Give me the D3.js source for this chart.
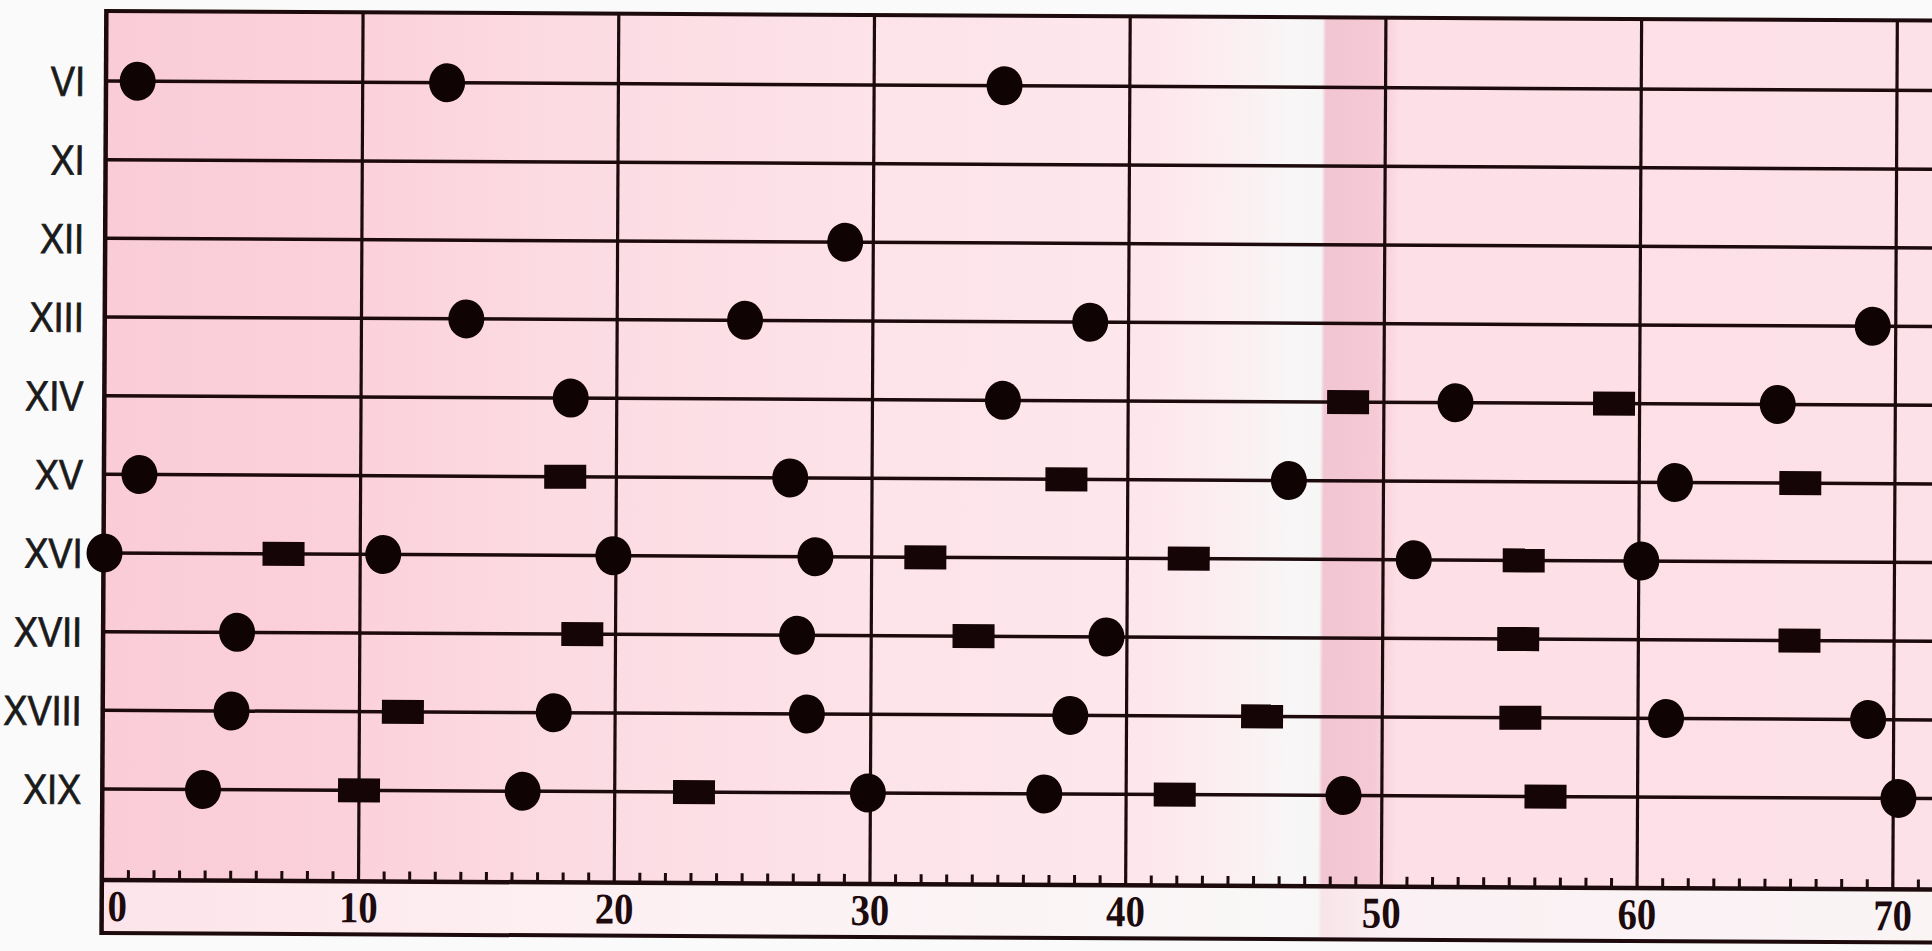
<!DOCTYPE html>
<html>
<head>
<meta charset="utf-8">
<script src="https://cdn.jsdelivr.net/npm/d3@7"></script>
<style>
  html, body { margin: 0; padding: 0; background: #fbfafa; overflow: hidden; }
  svg { display: block; }
</style>
</head>
<body>
<svg id="chart" width="1932" height="951"></svg>
<script>
// ---- data ----
const rows = ["VI", "XI", "XII", "XIII", "XIV", "XV", "XVI", "XVII", "XVIII", "XIX"];
const majorTicks = [0, 10, 20, 30, 40, 50, 60, 70];
const minorTicks = d3.range(1, 72).filter(v => v % 10 !== 0);

// circles: [row, value]
const circlePoints = [
  ["VI", 1.2], ["VI", 13.3], ["VI", 35.1],
  ["XII", 28.9],
  ["XIII", 14.1], ["XIII", 25.0], ["XIII", 38.5], ["XIII", 69.1],
  ["XIV", 18.2], ["XIV", 35.1], ["XIV", 52.8], ["XIV", 65.4],
  ["XV", 1.35], ["XV", 26.8], ["XV", 46.3], ["XV", 61.4],
  ["XVI", 0], ["XVI", 10.9], ["XVI", 19.9], ["XVI", 27.8], ["XVI", 51.2], ["XVI", 60.1],
  ["XVII", 5.2], ["XVII", 27.1], ["XVII", 39.2],
  ["XVIII", 5.0], ["XVIII", 17.6], ["XVIII", 27.5], ["XVIII", 37.8], ["XVIII", 61.1], ["XVIII", 69.0],
  ["XIX", 3.9], ["XIX", 16.4], ["XIX", 29.9], ["XIX", 36.8], ["XIX", 48.5], ["XIX", 70.2]
];
// rectangles: [row, value]
const rectPoints = [
  ["XIV", 48.6], ["XIV", 59.0],
  ["XV", 18.0], ["XV", 37.6], ["XV", 66.3],
  ["XVI", 7.0], ["XVI", 32.1], ["XVI", 42.4], ["XVI", 55.5],
  ["XVII", 18.7], ["XVII", 34.0], ["XVII", 55.3], ["XVII", 66.3],
  ["XVIII", 11.7], ["XVIII", 45.3], ["XVIII", 55.4],
  ["XIX", 10.0], ["XIX", 23.1], ["XIX", 41.9], ["XIX", 56.4]
];

(function () {
// ---- layout ----
const W = 1932;
const frameL = 106, frameT = 11, axisY = 880, frameB = 933;
const ink = "#1c0a0d";

const svg = d3.select("#chart");
const x = d3.scaleLinear().domain([0, 70]).range([107, 1897]);
const y = d3.scalePoint().domain(rows).range([81, 789]);

// gradient background
const defs = svg.append("defs");
function grad(id, stops) {
  const gr = defs.append("linearGradient").attr("id", id)
    .attr("gradientUnits", "userSpaceOnUse")
    .attr("x1", frameL).attr("x2", W).attr("y1", 0).attr("y2", 0);
  stops.forEach(([px, c]) => gr.append("stop")
    .attr("offset", (px - frameL) / (W - frameL)).attr("stop-color", c));
}
grad("bg", [
  [106, "#f9ccd8"], [360, "#fbd1dc"], [560, "#fcdbe3"], [900, "#fde3ea"],
  [1150, "#fde7ed"], [1240, "#fbeff2"], [1290, "#f8f6f6"], [1322, "#f7f6f6"],
  [1326, "#f1c5d2"], [1378, "#f5cad6"], [1400, "#fddfe7"], [1932, "#fde1e8"]
]);
grad("bg2", [
  [106, "#fce4ea"], [600, "#fdf0f3"], [1300, "#f9f7f7"], [1322, "#f8f7f7"],
  [1326, "#f7e4e9"], [1400, "#fbf1f4"], [1932, "#faf4f5"]
]);

const g = svg.append("g").attr("transform", `rotate(0.3, ${frameL}, 81)`);

g.append("rect").attr("x", frameL).attr("y", frameT).attr("width", W - frameL + 20)
  .attr("height", axisY - frameT).attr("fill", "url(#bg)");
g.append("rect").attr("x", frameL).attr("y", axisY).attr("width", W - frameL + 20)
  .attr("height", frameB - axisY).attr("fill", "url(#bg2)");

// vertical grid lines (major)
g.append("g").selectAll("line").data(majorTicks.filter(v => v > 0)).join("line")
  .attr("x1", d => x(d)).attr("x2", d => x(d))
  .attr("y1", frameT).attr("y2", axisY)
  .attr("stroke", ink).attr("stroke-width", 3.2);

// horizontal row lines
g.append("g").selectAll("line").data(rows).join("line")
  .attr("x1", frameL).attr("x2", W + 20)
  .attr("y1", d => y(d)).attr("y2", d => y(d))
  .attr("stroke", ink).attr("stroke-width", 3.5);

// minor ticks
g.append("g").selectAll("line").data(minorTicks).join("line")
  .attr("x1", d => x(d)).attr("x2", d => x(d))
  .attr("y1", axisY).attr("y2", axisY - 10)
  .attr("stroke", ink).attr("stroke-width", 3);

// frame: top border, axis line, bottom border, left border
g.append("line").attr("x1", frameL).attr("x2", W + 20).attr("y1", frameT).attr("y2", frameT)
  .attr("stroke", ink).attr("stroke-width", 4);
g.append("line").attr("x1", frameL).attr("x2", W + 20).attr("y1", axisY).attr("y2", axisY)
  .attr("stroke", ink).attr("stroke-width", 4.5);
g.append("line").attr("x1", frameL).attr("x2", W + 20).attr("y1", frameB).attr("y2", frameB)
  .attr("stroke", ink).attr("stroke-width", 4);
g.append("line").attr("x1", frameL).attr("x2", frameL).attr("y1", frameT - 2).attr("y2", frameB + 2)
  .attr("stroke", ink).attr("stroke-width", 4.5);

// row labels
g.append("g").selectAll("text").data(rows).join("text")
  .attr("transform", d => `translate(85, ${y(d) + 15}) scale(0.86, 1)`)
  .attr("text-anchor", "end")
  .attr("font-family", "Liberation Sans, Arial, sans-serif")
  .attr("font-size", 42)
  .attr("fill", "#1a1a1a")
  .attr("stroke", "#1a1a1a").attr("stroke-width", 0.8)
  .text(d => d);

// tick labels
g.append("g").selectAll("text").data(majorTicks).join("text")
  .attr("transform", d => `translate(${d === 0 ? x(d) + 5 : x(d)}, 921) scale(0.88, 1)`)
  .attr("text-anchor", d => d === 0 ? "start" : "middle")
  .attr("font-family", "Liberation Serif, Times New Roman, serif")
  .attr("font-weight", "bold")
  .attr("font-size", 44)
  .attr("fill", ink)
  .text(d => d);

// rectangles
const rw = 42, rh = 24;
g.append("g").selectAll("rect").data(rectPoints).join("rect")
  .attr("x", d => x(d[1]) - rw / 2).attr("y", d => y(d[0]) - rh / 2)
  .attr("width", rw).attr("height", rh)
  .attr("fill", "#150506");

// circles
g.append("g").selectAll("ellipse").data(circlePoints).join("ellipse")
  .attr("cx", d => x(d[1])).attr("cy", d => y(d[0]))
  .attr("rx", 18).attr("ry", 19.5)
  .attr("fill", "#100304");
})();
</script>
</body>
</html>
